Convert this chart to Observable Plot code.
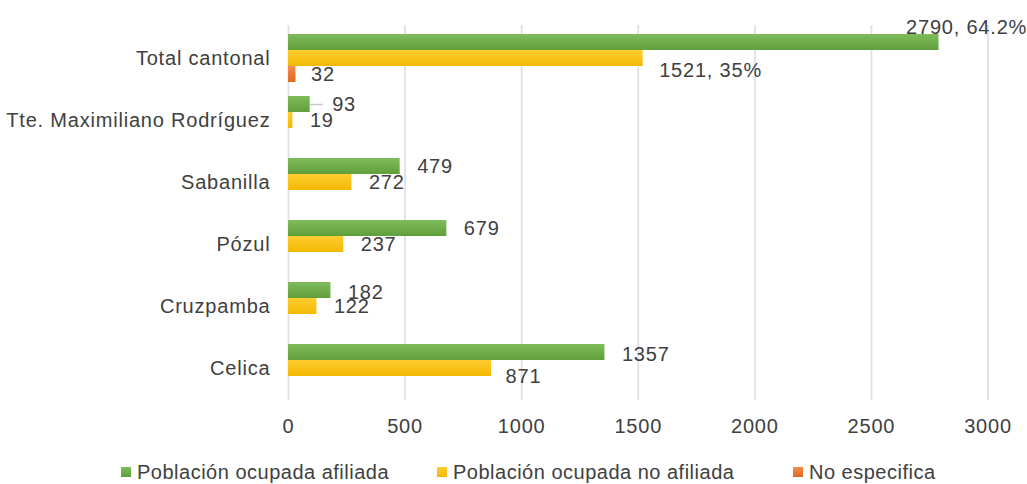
<!DOCTYPE html>
<html><head><meta charset="utf-8">
<script src="https://cdn.jsdelivr.net/npm/d3@7"></script>
<script src="https://cdn.jsdelivr.net/npm/@observablehq/plot@0.6"></script>
<style>
body{margin:0;background:#fff;}
#chart{position:relative;width:1027px;height:484px;font-family:"Liberation Sans",Arial,sans-serif;color:#404040;background:#fff;overflow:hidden}
#chart svg{display:block}
.item{position:absolute;top:460px;display:flex;align-items:center;font-size:20px;letter-spacing:0.5px;line-height:24px;white-space:nowrap;color:#404040}
.sw{width:10px;height:10px;margin-right:6px}
</style></head>
<body><div id="chart"></div>
<script>
// ---- data ----
const categories = ["Total cantonal", "Tte. Maximiliano Rodríguez", "Sabanilla", "Pózul", "Cruzpamba", "Celica"];
const series = ["Población ocupada afiliada", "Población ocupada no afiliada", "No especifica"];
const afiliada = [2790, 93, 479, 679, 182, 1357];
const noAfiliada = [1521, 19, 272, 237, 122, 871];
const noEspecifica = [32, null, null, null, null, null];
const afiliadaPct = ["64.2%", null, null, null, null, null];
const noAfiliadaPct = ["35%", null, null, null, null, null];
const xTicks = [0, 500, 1000, 1500, 2000, 2500, 3000];

// ---- styles ----
const gradIds = ["gGreen", "gYellow", "gOrange"];
const gradStops = [["#7fbd5c", "#5f9f3a"], ["#ffcd33", "#f2b800"], ["#f38d50", "#e2671c"]];
const slot = [
  {insetTop: 0, insetBottom: 32, dy: -16},
  {insetTop: 16, insetBottom: 16, dy: 0},
  {insetTop: 32, insetBottom: 0, dy: 16}
];
const labelAdjust = {
  "Total cantonal|0": {dx: -33, dy: -31},
  "Total cantonal|1": {dx: 16, dy: 12},
  "Total cantonal|2": {dx: 15, dy: 16},
  "Tte. Maximiliano Rodríguez|0": {dx: 22, dy: -16},
  "Cruzpamba|0": {dx: 17, dy: -14},
  "Celica|0": {dx: 17, dy: -14},
  "Celica|1": {dx: 14, dy: 8}
};

const values = [afiliada, noAfiliada, noEspecifica];
const pcts = [afiliadaPct, noAfiliadaPct, categories.map(() => null)];
const rows = [];
categories.forEach((c, i) => {
  series.forEach((s, k) => {
    const v = values[k][i];
    if (v == null) return;
    rows.push({category: c, series: s, k, value: v,
      label: pcts[k][i] ? `${v}, ${pcts[k][i]}` : `${v}`});
  });
});

const barMarks = series.map((s, k) =>
  Plot.barX(rows.filter(d => d.k === k), {
    x: "value", y: "category", fill: `url(#${gradIds[k]})`,
    insetTop: slot[k].insetTop, insetBottom: slot[k].insetBottom
  })
);

const labelMarks = rows.map(d => {
  const adj = labelAdjust[`${d.category}|${d.k}`] || {dx: 17, dy: slot[d.k].dy};
  return Plot.text([d], {
    x: "value", y: "category", text: "label", textAnchor: "start",
    dx: adj.dx, dy: adj.dy, fill: "#404040"
  });
});

const leader = Plot.ruleY(rows.filter(d => d.category === categories[1] && d.k === 0), {
  y: "category", x1: "value", x2: "value", insetRight: -13, dy: -16,
  stroke: "#c5cad3", strokeWidth: 1.5
});

const svg = Plot.plot({
  width: 1027, height: 440,
  marginTop: 25, marginBottom: 40, marginLeft: 288, marginRight: 39.5,
  x: {domain: [0, 3000], ticks: xTicks, tickSize: 0, tickPadding: 18, label: null, tickFormat: d => String(d)},
  y: {domain: categories, paddingInner: 0.232, paddingOuter: 0.116, tickSize: 0, tickPadding: 18, label: null},
  style: {fontFamily: '"Liberation Sans", Arial, sans-serif', fontSize: "20px", color: "#404040", background: "white", letterSpacing: "0.8px", overflow: "visible"},
  marks: [
    Plot.ruleX(xTicks, {x: d => d, stroke: "#dfe3ea", strokeWidth: 2}),
    ...barMarks,
    leader,
    ...labelMarks
  ]
});

const defs = d3.select(svg).insert("defs", ":first-child");
gradIds.forEach((id, k) => {
  const g = defs.append("linearGradient").attr("id", id).attr("x1", 0).attr("y1", 0).attr("x2", 0).attr("y2", 1);
  g.append("stop").attr("offset", "0%").attr("stop-color", gradStops[k][0]);
  g.append("stop").attr("offset", "100%").attr("stop-color", gradStops[k][1]);
});

const chart = document.getElementById("chart");
chart.appendChild(svg);

const legendLeft = [121, 437, 793];
series.forEach((s, k) => {
  const item = document.createElement("div");
  item.className = "item";
  item.style.left = legendLeft[k] + "px";
  const sw = document.createElement("span");
  sw.className = "sw";
  sw.style.background = `linear-gradient(${gradStops[k][0]}, ${gradStops[k][1]})`;
  const t = document.createElement("span");
  t.textContent = s;
  item.appendChild(sw); item.appendChild(t);
  chart.appendChild(item);
});
</script>
</body></html>
